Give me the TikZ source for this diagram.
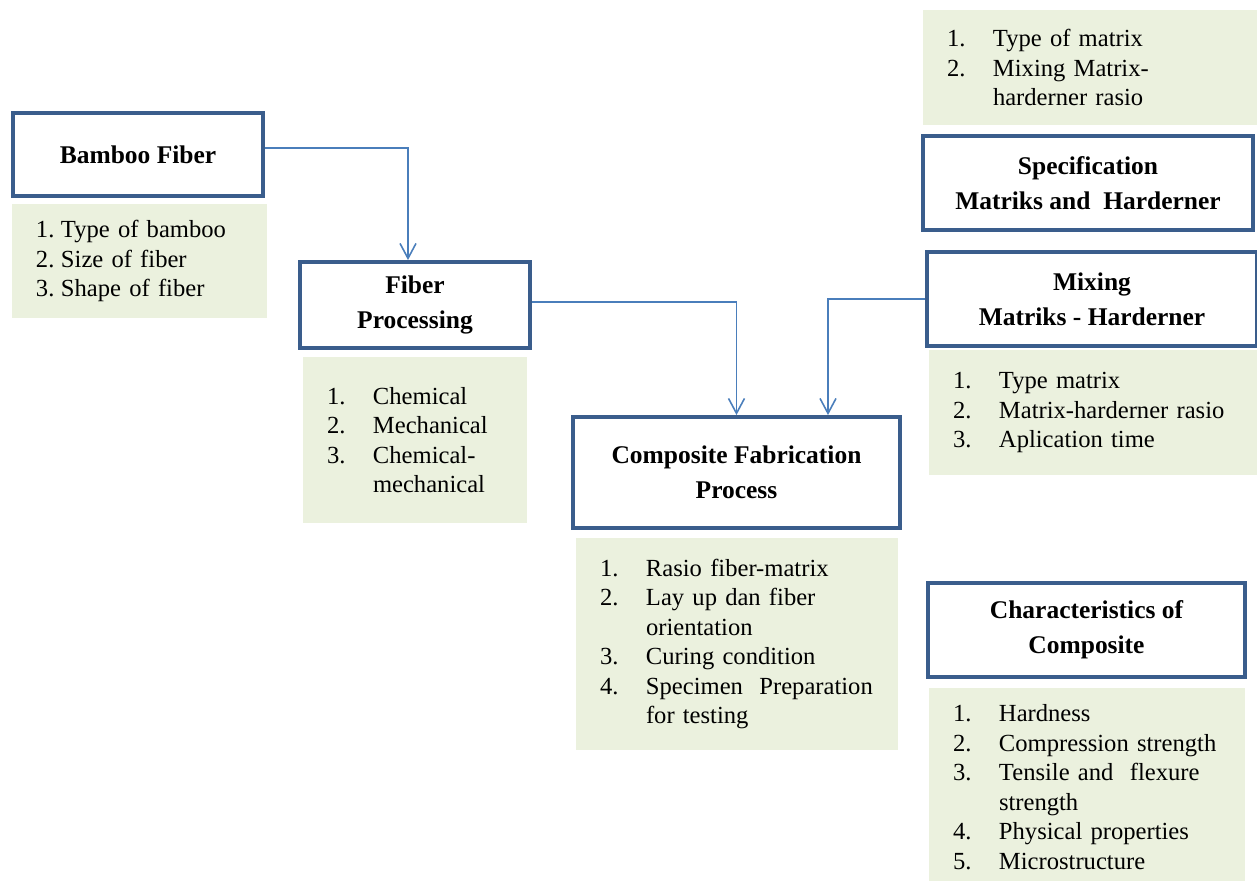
\documentclass[tikz,border=0pt]{standalone}
\usepackage{fontspec}
\setmainfont{Liberation Serif}
\usepackage{xcolor}
\usepackage{tikz}
\usetikzlibrary{calc,arrows.meta}
\definecolor{frameblue}{HTML}{3A5D8C}
\definecolor{linkblue}{HTML}{4A7EBB}
\definecolor{notegreen}{HTML}{EBF1DE}
\newcommand{\nb}[2][0.92cm]{\makebox[#1][l]{#2}}
\newcommand{\nbx}{\hspace*{0.92cm}}
\tikzset{
  head/.style={draw=frameblue, line width=2.2pt, fill=white, align=center,
    minimum height=1.88cm, font=\bfseries\fontsize{14.5}{20}\selectfont},
  note/.style={fill=notegreen, inner xsep=0.48cm, inner ysep=0pt, align=left,
    font=\fontsize{14}{16.8}\selectfont},
  link/.style={draw=linkblue, line width=0.9pt, -{Straight Barb[length=3mm,width=3.2mm]}}
}

\begin{document}
\begin{tikzpicture}
  \useasboundingbox (0,0) rectangle (25.14,-17.6);

  % left column
  \node[head, minimum width=5.0cm, minimum height=1.66cm] (bamboo) at (2.76,-3.09) {Bamboo Fiber};
  \node[note, minimum width=5.1cm, minimum height=2.28cm, text width=4.14cm] (bamboolist) at (2.79,-5.22)
    {\nb[0.5cm]{1.}Type of bamboo\\ \nb[0.5cm]{2.}Size of fiber\\ \nb[0.5cm]{3.}Shape of fiber};

  \node[head, minimum width=4.6cm, minimum height=1.72cm] (fibproc) at (8.3,-6.1) {Fiber\\Processing};
  \node[note, minimum width=4.48cm, minimum height=3.32cm, text width=3.52cm] (fibproclist) at (8.3,-8.8)
    {\nb{1.}Chemical\\ \nb{2.}Mechanical\\ \nb{3.}Chemical-\\ \nbx mechanical};

  % middle
  \node[head, minimum width=6.54cm, minimum height=2.22cm] (cfp) at (14.73,-9.45) {Composite Fabrication\\Process};
  \node[note, minimum width=6.44cm, minimum height=4.24cm, text width=5.48cm] (cfplist) at (14.74,-12.88)
    {\nb{1.}Rasio fiber-matrix\\ \nb{2.}Lay up dan fiber\\ \nbx orientation\\
     \nb{3.}Curing condition\\ \nb{4.}Specimen\ \ Preparation\\ \nbx for testing};

  % right column
  \node[note, minimum width=6.68cm, minimum height=2.3cm, text width=5.72cm] (speclist) at (21.8,-1.35)
    {\nb{1.}Type of matrix\\ \nb{2.}Mixing Matrix-\\ \nbx harderner rasio};
  \node[head, minimum width=6.6cm] (spec) at (21.76,-3.66) {Specification\\Matriks and\ \ Harderner};

  \node[head, minimum width=6.6cm] (mixing) at (21.84,-5.98) {Mixing\\Matriks - Harderner};
  \node[note, minimum width=6.56cm, minimum height=2.5cm, text width=5.6cm] (mixlist) at (21.86,-8.25)
    {\nb{1.}Type matrix\\ \nb{2.}Matrix-harderner rasio\\ \nb{3.}Aplication time};

  \node[head, minimum width=6.34cm] (charac) at (21.73,-12.6) {Characteristics of\\Composite};
  \node[note, minimum width=6.32cm, minimum height=3.96cm, text width=5.36cm] (charlist) at (21.74,-15.74)
    {\nb{1.}Hardness\\ \nb{2.}Compression strength\\ \nb{3.}Tensile and\ \ flexure\\ \nbx strength\\
     \nb{4.}Physical properties\\ \nb{5.}Microstructure};

  % connectors
  \draw[link] ($(bamboo.east)+(0,0.13)$) -| ($(fibproc.north)+(-0.14,0)$);
  \draw[link] ($(fibproc.east)+(0,0.06)$) -| (cfp.north);
  \draw[link] (mixing.west) -| ($(cfp.north)+(1.83,0)$);
\end{tikzpicture}
\end{document}
